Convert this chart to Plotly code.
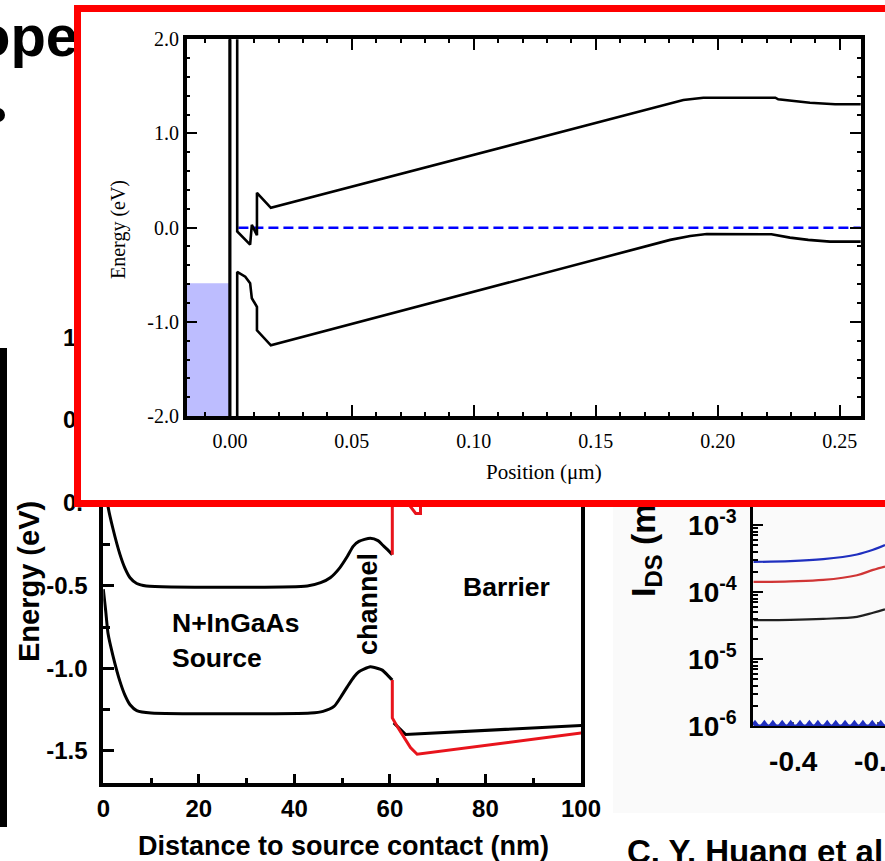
import plotly.graph_objects as go

W, H = 885, 861

# ---------------- inset: band diagram (Position in um, Energy in eV)
cb_x = [0.0030, 0.0030, 0.0083, 0.0090, 0.0111, 0.0111, 0.0168, 0.1777, 0.1859, 0.1941, 0.2236, 0.2248, 0.2378, 0.2481, 0.2590]
cb_y = [2.60, -0.04, -0.18, 0.03, -0.08, 0.37, 0.21, 1.30, 1.356, 1.38, 1.38, 1.363, 1.327, 1.31, 1.31]
vb_x = [0.0030, 0.0030, 0.0063, 0.0083, 0.0090, 0.0111, 0.0111, 0.0138, 0.0168, 0.1805, 0.1887, 0.1955, 0.2220, 0.2296, 0.2371, 0.2460, 0.2590]
vb_y = [-2.60, -0.47, -0.52, -0.59, -0.75, -0.84, -1.09, -1.17, -1.25, -0.13, -0.088, -0.067, -0.070, -0.106, -0.130, -0.148, -0.148]
ef_x = [0.0035, 0.2590]
ef_y = [0.0, 0.0]
metal_x = [-0.0180, 0.0, 0.0, -0.0180]
metal_y = [-2.0, -2.0, -0.59, -0.59]
gate_x = [0.0, 0.0]
gate_y = [-2.1, 2.1]
inset_xticks = [0.0, 0.05, 0.10, 0.15, 0.20, 0.25]
inset_xlabels = ["0.00", "0.05", "0.10", "0.15", "0.20", "0.25"]
inset_yticks = [-2.0, -1.0, 0.0, 1.0, 2.0]
inset_ylabels = ["-2.0", "-1.0", "0.0", "1.0", "2.0"]

# ---------------- background: band diagram vs distance (nm, eV)
src_cb_x = [0.0, 0.5, 1.0, 2.0, 3.5, 4.5, 5.6, 7.0, 9.0, 42.7, 45.5, 47.5, 49.5, 51.1, 52.3, 53.5, 55.9, 57.5, 58.4, 59.5, 60.5]
src_cb_y = [0.25, 0.12, -0.02, -0.15, -0.31, -0.39, -0.45, -0.485, -0.50, -0.50, -0.48, -0.45, -0.39, -0.32, -0.26, -0.23, -0.21, -0.225, -0.25, -0.28, -0.31]
src_vb_x = [0.0, 0.5, 1.0, 2.0, 3.5, 4.5, 5.6, 7.0, 10.0, 43.4, 46.0, 48.3, 50.0, 51.1, 52.5, 53.5, 55.9, 57.5, 58.4, 59.5, 60.5]
src_vb_y = [-0.52, -0.65, -0.79, -0.92, -1.08, -1.16, -1.22, -1.255, -1.27, -1.27, -1.26, -1.23, -1.16, -1.11, -1.05, -1.02, -0.99, -1.0, -1.01, -1.04, -1.07]
bar_vb_x = [60.8, 63.3, 100.4]
bar_vb_y = [-1.33, -1.40, -1.345]
red_cb_x = [60.5, 60.5, 63.0, 65.4, 66.4, 66.4]
red_cb_y = [-0.31, 0.40, 0.03, -0.06, -0.06, 0.40]
red_vb_x = [60.5, 60.5, 61.5, 62.6, 64.3, 65.7, 100.4]
red_vb_y = [-1.07, -1.30, -1.35, -1.40, -1.48, -1.52, -1.39]
bg_xticks = [0, 20, 40, 60, 80, 100]
bg_xlabels = ["0", "20", "40", "60", "80", "100"]
bg_yticks = [-1.5, -1.0, -0.5]
bg_ylabels = ["-1.5", "-1.0", "-0.5"]
bg_yminor = [-1.25, -0.75, -0.25]

# ---------------- right: I_DS (log) vs gate voltage
vg = [-0.447, -0.4035, -0.3647, -0.325, -0.306, -0.292]
ids_blue = [10**-3.55, 10**-3.54, 10**-3.51, 10**-3.44, 10**-3.37, 10**-3.30]
ids_red = [10**-3.85, 10**-3.84, 10**-3.82, 10**-3.75, 10**-3.67, 10**-3.62]
ids_black = [10**-4.42, 10**-4.415, 10**-4.40, 10**-4.37, 10**-4.31, 10**-4.26]
vg_tri = [-0.445, -0.434, -0.424, -0.413, -0.403, -0.392, -0.381, -0.371, -0.360, -0.350, -0.339, -0.328, -0.318, -0.307, -0.297]
ids_tri = [1.1e-6] * 15
vg_floor = [-0.447, -0.292]
ids_floor = [1e-6, 1e-6]
log_yticks = [1e-6, 1e-5, 1e-4, 1e-3]
log_ylabels = ["10<sup>-6</sup>", "10<sup>-5</sup>", "10<sup>-4</sup>", "10<sup>-3</sup>"]
log_yminor = [m * 10.0**e for e in (-6, -5, -4, -3) for m in (2, 3, 4, 5, 6, 7, 8, 9)]
log_xticks = [-0.4, -0.3]
log_xlabels = ["-0.4", "-0.3"]


def fx(px):
    return px / W


def fy(py):
    return 1 - py / H


BLUE = "#1F2FBF"
fig = go.Figure()

# inset traces
fig.add_trace(go.Scatter(x=metal_x, y=metal_y, fill="toself", fillcolor="#BDBDFF", mode="none", xaxis="x", yaxis="y"))
fig.add_trace(go.Scatter(x=gate_x, y=gate_y, mode="lines", line=dict(color="black", width=3.2), xaxis="x", yaxis="y"))
fig.add_trace(go.Scatter(x=ef_x, y=ef_y, mode="lines", line=dict(color="#0000FF", width=2.5, dash="10px,5px"), xaxis="x", yaxis="y"))
fig.add_trace(go.Scatter(x=cb_x, y=cb_y, mode="lines", line=dict(color="black", width=2.6), xaxis="x", yaxis="y"))
fig.add_trace(go.Scatter(x=vb_x, y=vb_y, mode="lines", line=dict(color="black", width=2.6), xaxis="x", yaxis="y"))

# background traces
fig.add_trace(go.Scatter(x=src_cb_x, y=src_cb_y, mode="lines", line=dict(color="black", width=3, shape="spline", smoothing=0.6), xaxis="x2", yaxis="y2"))
fig.add_trace(go.Scatter(x=src_vb_x, y=src_vb_y, mode="lines", line=dict(color="black", width=3, shape="spline", smoothing=0.6), xaxis="x2", yaxis="y2"))
fig.add_trace(go.Scatter(x=bar_vb_x, y=bar_vb_y, mode="lines", line=dict(color="black", width=3), xaxis="x2", yaxis="y2"))
fig.add_trace(go.Scatter(x=red_cb_x, y=red_cb_y, mode="lines", line=dict(color="#E8141C", width=3), xaxis="x2", yaxis="y2"))
fig.add_trace(go.Scatter(x=red_vb_x, y=red_vb_y, mode="lines", line=dict(color="#E8141C", width=3), xaxis="x2", yaxis="y2"))

# log chart traces
fig.add_trace(go.Scatter(x=vg, y=ids_blue, mode="lines", line=dict(color=BLUE, width=2.2, shape="spline"), xaxis="x3", yaxis="y3"))
fig.add_trace(go.Scatter(x=vg, y=ids_red, mode="lines", line=dict(color="#D03535", width=2.2, shape="spline"), xaxis="x3", yaxis="y3"))
fig.add_trace(go.Scatter(x=vg, y=ids_black, mode="lines", line=dict(color="#202020", width=2.2, shape="spline"), xaxis="x3", yaxis="y3"))
fig.add_trace(go.Scatter(x=vg_floor, y=ids_floor, mode="lines", line=dict(color=BLUE, width=3), cliponaxis=False, xaxis="x3", yaxis="y3"))
fig.add_trace(go.Scatter(x=vg_tri, y=ids_tri, mode="markers", marker=dict(symbol="triangle-up", size=7, color=BLUE), cliponaxis=False, xaxis="x3", yaxis="y3"))

serif = dict(family="Liberation Serif", size=20, color="black")
sansb = dict(family="Liberation Sans", size=24, color="black", weight="bold")
logfont = dict(family="Liberation Sans", size=28, color="black", weight="bold")

common = dict(showgrid=False, zeroline=False, showline=True, linecolor="black")
fig.update_layout(
    width=W, height=H, margin=dict(l=0, r=0, t=0, b=0, autoexpand=False),
    paper_bgcolor="white", plot_bgcolor="white", showlegend=False,
    xaxis=dict(**common, domain=[fx(186.7), fx(860.7)], range=[-0.0177, 0.2586], anchor="y",
               linewidth=3.5, mirror="ticks", ticks="inside", ticklen=11, tickwidth=2, tickcolor="black",
               tickvals=inset_xticks, ticktext=inset_xlabels, tickfont=serif, ticklabelstandoff=4,
               minor=dict(dtick=0.01, tick0=0, ticks="inside", ticklen=4, tickwidth=2, tickcolor="black")),
    yaxis=dict(**common, domain=[fy(416), fy(39.3)], range=[-2, 2], anchor="x",
               linewidth=3.5, mirror="ticks", ticks="inside", ticklen=11, tickwidth=2, tickcolor="black",
               tickvals=inset_yticks, ticktext=inset_ylabels, tickfont=serif, ticklabelstandoff=0,
               minor=dict(dtick=0.2, tick0=0, ticks="inside", ticklen=4, tickwidth=2, tickcolor="black")),
    xaxis2=dict(**common, domain=[fx(103.3), fx(581)], range=[0, 100], anchor="y2",
                linewidth=4, ticks="inside", ticklen=9, tickwidth=3, tickcolor="black",
                tickvals=bg_xticks, ticktext=bg_xlabels, tickfont=sansb, ticklabelstandoff=1,
                minor=dict(dtick=10, tick0=0, ticks="inside", ticklen=5, tickwidth=3, tickcolor="black")),
    yaxis2=dict(**common, domain=[fy(783.3), fy(502.5)], range=[-1.696, 0.006], anchor="x2",
                linewidth=4, mirror=True, ticks="inside", ticklen=11, tickwidth=3, tickcolor="black",
                tickvals=bg_yticks, ticktext=bg_ylabels, tickfont=sansb, ticklabelstandoff=7,
                minor=dict(tickvals=bg_yminor, ticks="inside", ticklen=7, tickwidth=3, tickcolor="black")),
    xaxis3=dict(**common, domain=[fx(753.3), 1.0], range=[-0.447, -0.292], anchor="y3", layer="below traces",
                linewidth=2, ticks="inside", ticklen=4, tickwidth=1.5, tickcolor="#555555",
                tickvals=log_xticks, ticktext=log_xlabels, ticklabelstandoff=9, tickfont=logfont,
                ticklabeloverflow="allow"),
    yaxis3=dict(**common, type="log", domain=[fy(726), fy(502.5)], range=[-6, -2.664], anchor="x3",
                linewidth=3, ticks="inside", ticklen=10, tickwidth=2, tickcolor="black",
                tickvals=log_yticks, ticktext=log_ylabels, ticklabelstandoff=8, tickfont=logfont,
                minor=dict(tickvals=log_yminor, ticks="inside", ticklen=5, tickwidth=1.5, tickcolor="black")),
)

fig.add_shape(type="rect", xref="paper", yref="paper", x0=fx(613), x1=fx(890), y0=fy(813), y1=fy(500),
              fillcolor="#FAFAFA", line=dict(width=0), layer="below")
fig.add_shape(type="rect", xref="paper", yref="paper", x0=fx(0), x1=fx(7), y0=fy(827), y1=fy(348),
              fillcolor="black", line=dict(width=0), layer="above")
fig.add_shape(type="circle", xref="paper", yref="paper", x0=fx(-9), x1=fx(5), y0=fy(122), y1=fy(108),
              fillcolor="black", line=dict(width=0))


def txt(text, x, y, size, xanchor="center", yanchor="middle", angle=0, family="Liberation Sans", bold=True):
    fig.add_annotation(text=text, x=fx(x), y=fy(y), xref="paper", yref="paper", showarrow=False,
                       xanchor=xanchor, yanchor=yanchor, textangle=angle, borderpad=0,
                       font=dict(family=family, size=size, color="black", weight="bold" if bold else "normal"))


txt("ope", 79, 36, 58, xanchor="right")
txt("1", 62, 337, 24, xanchor="left")
txt("0", 62, 419.5, 24, xanchor="left")
txt("0.", 62, 502.5, 24, xanchor="left")
txt("Energy (eV)", 29, 582, 29, angle=-90)
txt("N+InGaAs", 171, 623, 26.5, xanchor="left")
txt("Source", 171, 658, 26.5, xanchor="left")
txt("channel", 368, 604, 27, angle=-90)
txt("Barrier", 462, 587, 26.5, xanchor="left")
txt("Distance to source contact (nm)", 343, 846, 27)
txt("C. Y. Huang et al", 626, 851, 33, xanchor="left")
txt("I<sub>DS</sub> (m", 645, 598, 34, yanchor="bottom", angle=-90)
txt("Energy (eV)", 118, 230, 20, angle=-90, family="Liberation Serif", bold=False)
txt("Position (\u03bcm)", 544, 472, 21, family="Liberation Serif", bold=False)

# red frame of the inset (drawn last so it sits over the clipped background)
fig.add_annotation(text=" ", x=fx(74), y=fy(5), xref="paper", yref="paper", showarrow=False,
                   xanchor="left", yanchor="top", width=820, height=488, borderpad=0,
                   borderwidth=7, bordercolor="#FF0000", bgcolor="rgba(0,0,0,0)")

fig.write_html("out.html", post_script="document.body.style.margin='0';document.body.style.padding='0';document.body.style.overflow='hidden';")
